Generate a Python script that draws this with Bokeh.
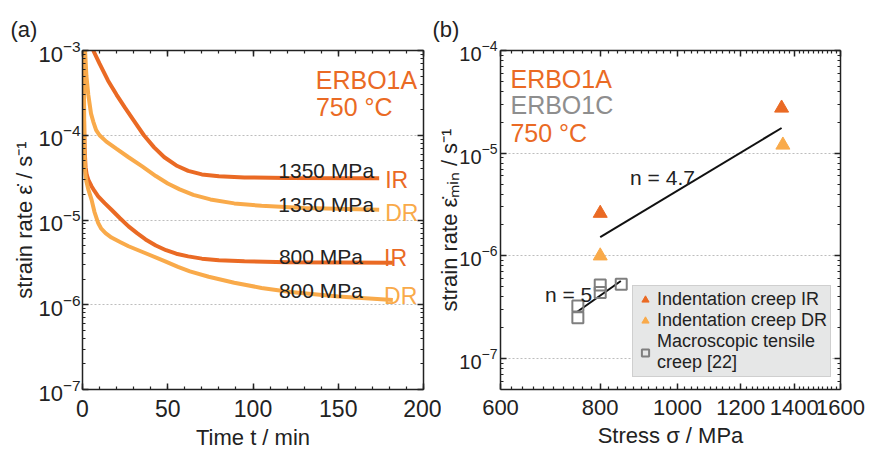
from bokeh.plotting import figure
from bokeh.layouts import row
from bokeh.models import (LogAxis, LinearAxis, FixedTicker, SingleIntervalTicker, Label,
                          Legend, LegendItem, BasicTickFormatter, CustomJSTickFormatter)
from bokeh.embed import file_html
from bokeh.resources import INLINE

# ---------------- data: panel (a) creep curves ----------------
t_ir_1350 = [6.3, 10, 15, 20, 25, 30, 36, 42, 48, 55, 62, 70, 80, 95, 120, 174]
r_ir_1350 = [1.0e-3, 7.0e-4, 4.4e-4, 3.0e-4, 2.1e-4, 1.5e-4, 1.0e-4, 7.2e-5, 5.5e-5,
             4.4e-5, 3.8e-5, 3.45e-5, 3.28e-5, 3.18e-5, 3.13e-5, 3.1e-5]

t_dr_1350 = [1.5, 2.3, 3.4, 5, 6.3, 8, 10, 14, 20, 27, 35, 43, 50, 57, 65, 75, 89, 105, 130, 174]
r_dr_1350 = [1.0e-3, 5.0e-4, 3.0e-4, 1.8e-4, 1.45e-4, 1.15e-4, 1.0e-4, 8.4e-5, 6.9e-5, 5.5e-5,
             4.3e-5, 3.3e-5, 2.7e-5, 2.3e-5, 1.98e-5, 1.75e-5, 1.57e-5, 1.47e-5, 1.39e-5, 1.32e-5]

t_ir_800 = [0.4, 0.6, 0.8, 1.0, 1.3, 1.8, 2.5, 3.5, 5.3, 7, 9.2, 13, 17, 22, 27, 32, 37, 43, 49,
            55, 62, 70, 80, 95, 120, 182]
r_ir_800 = [1.0e-3, 4.0e-4, 2.0e-4, 1.1e-4, 6.5e-5, 4.2e-5, 3.4e-5, 2.95e-5, 2.5e-5, 2.2e-5,
            1.9e-5, 1.58e-5, 1.32e-5, 1.05e-5, 8.4e-6, 7.0e-6, 5.9e-6, 5.0e-6, 4.4e-6, 4.0e-6,
            3.72e-6, 3.5e-6, 3.35e-6, 3.25e-6, 3.18e-6, 3.13e-6]

t_dr_800 = [0.7, 0.85, 1.0, 1.2, 1.5, 2.2, 3.4, 5.3, 7, 9.2, 11, 13.5, 17, 22, 27, 37, 48.5, 56,
            63, 74, 89, 105, 122, 150, 182]
r_dr_800 = [1.0e-3, 4.0e-4, 1.5e-4, 6.5e-5, 3.8e-5, 2.9e-5, 2.3e-5, 1.74e-5, 1.25e-5, 9.2e-6,
            7.9e-6, 7.0e-6, 6.2e-6, 5.5e-6, 4.9e-6, 4.05e-6, 3.25e-6, 2.8e-6, 2.48e-6, 2.14e-6,
            1.82e-6, 1.58e-6, 1.41e-6, 1.25e-6, 1.14e-6]

# ---------------- data: panel (b) minimum creep rates ----------------
ir_stress = [800, 1350]
ir_rate = [2.6e-6, 2.75e-5]
dr_stress = [800, 1355]
dr_rate = [1.0e-6, 1.2e-5]
mac_stress = [750, 750, 800, 800, 850]
mac_rate = [3.25e-7, 2.5e-7, 5.2e-7, 4.4e-7, 5.3e-7]
fit47_stress = [800, 1350]
fit47_rate = [1.52e-6, 1.76e-5]
fit5_stress = [748, 849]
fit5_rate = [2.84e-7, 5.7e-7]

x_ticks_a = [0, 50, 100, 150, 200]
y_ticks_a = [1e-7, 1e-6, 1e-5, 1e-4, 1e-3]
x_ticks_b = [600, 800, 1000, 1200, 1400, 1600]
y_ticks_b = [1e-7, 1e-6, 1e-5, 1e-4]

IR_C = "#EA6A24"
DR_C = "#F9AA4A"
GRAY_C = "#8E8E8E"
INK = "#222222"
FONT = "Liberation Sans"


def log_minor(lo_exp, hi_exp):
    return [k * 10.0 ** e for e in range(lo_exp, hi_exp) for k in range(2, 10)]


def style_axis(ax, fs, show=True):
    ax.major_tick_in = 6
    ax.major_tick_out = 0
    ax.minor_tick_in = 3
    ax.minor_tick_out = 0
    ax.axis_line_width = 1.5
    ax.axis_line_color = INK
    ax.major_tick_line_color = INK
    ax.major_tick_line_width = 1.5
    ax.minor_tick_line_color = INK
    ax.minor_tick_line_width = 1.2
    ax.major_label_text_font = FONT
    ax.major_label_text_color = INK
    ax.axis_label_text_font = FONT
    ax.axis_label_text_font_style = "normal"
    ax.axis_label_text_color = INK
    ax.axis_label_text_font_size = "22px"
    ax.major_label_text_font_size = fs
    if not show:
        ax.formatter = CustomJSTickFormatter(code="return ''")
        ax.major_label_standoff = 0


def lab(p, x, y, text, color=INK, size="21px", align="left"):
    p.add_layout(Label(x=x, y=y, text=text, text_color=color, text_font=FONT,
                       text_font_size=size, text_align=align, text_baseline="alphabetic"))


def panel_title(p, text, offset):
    p.title.text = text
    p.title.align = "left"
    p.title.vertical_align = "top"
    p.title.offset = offset
    p.title.text_font = FONT
    p.title.text_font_size = "22px"
    p.title.text_font_style = "normal"
    p.title.text_color = INK
    p.title.standoff = 14


# ======================= panel (a) =======================
p1 = figure(width=441, height=452, x_range=(0, 200), y_range=(1e-7, 1e-3), y_axis_type="log",
            output_backend="svg", toolbar_location=None,
            min_border_left=82, min_border_right=18, min_border_top=50, min_border_bottom=61)
p1.outline_line_color = None
panel_title(p1, "(a)", -72)

p1.xaxis.ticker = SingleIntervalTicker(interval=50, num_minor_ticks=5)
p1.yaxis.ticker = FixedTicker(ticks=y_ticks_a, minor_ticks=log_minor(-7, -3))
style_axis(p1.xaxis[0], "23px")
style_axis(p1.yaxis[0], "22px")
p1.xaxis.major_label_standoff = 10
p1.yaxis.major_label_standoff = 2
p1.yaxis.axis_label_standoff = -2
p1.xaxis.axis_label = "Time t / min"
p1.yaxis.axis_label = "strain rate ε̇ / s⁻¹"

top_a = LinearAxis(ticker=SingleIntervalTicker(interval=50, num_minor_ticks=5))
style_axis(top_a, "2px", show=False)
p1.add_layout(top_a, "above")
right_a = LogAxis(ticker=FixedTicker(ticks=y_ticks_a, minor_ticks=log_minor(-7, -3)))
style_axis(right_a, "2px", show=False)
p1.add_layout(right_a, "right")

p1.xgrid.visible = False
p1.ygrid.grid_line_color = "#bdbdbd"
p1.ygrid.grid_line_dash = "2 2"
p1.ygrid.grid_line_width = 1

p1.line(t_ir_1350, r_ir_1350, color=IR_C, line_width=4)
p1.line(t_dr_1350, r_dr_1350, color=DR_C, line_width=4)
p1.line(t_ir_800, r_ir_800, color=IR_C, line_width=4)
p1.line(t_dr_800, r_dr_800, color=DR_C, line_width=4)

lab(p1, 196.3, 4.44e-4, "ERBO1A", IR_C, "25px", "right")
lab(p1, 136.9, 2.14e-4, "750 °C", IR_C, "25px")
lab(p1, 171, 3.8e-5, "1350 MPa", INK, "21px", "right")
lab(p1, 177.5, 2.98e-5, "IR", IR_C, "23px")
lab(p1, 171, 1.52e-5, "1350 MPa", INK, "21px", "right")
lab(p1, 177.5, 1.22e-5, "DR", DR_C, "23px")
lab(p1, 164.5, 3.7e-6, "800 MPa", INK, "21px", "right")
lab(p1, 176.9, 3.6e-6, "IR", IR_C, "23px")
lab(p1, 164.5, 1.48e-6, "800 MPa", INK, "21px", "right")
lab(p1, 176.9, 1.26e-6, "DR", DR_C, "23px")

# ======================= panel (b) =======================
# overlaps panel (a) by 23 px with a transparent border so both keep their texts
p2 = figure(width=458, height=452, x_range=(600, 1600), y_range=(5e-8, 1e-4),
            x_axis_type="log", y_axis_type="log",
            output_backend="svg", toolbar_location=None,
            min_border_left=82, min_border_right=36, min_border_top=50, min_border_bottom=62)
p2.styles = {"margin-left": "-23px"}
p2.border_fill_color = None
p2.outline_line_color = None
panel_title(p2, "(b)", -68)

minor_x_b = [v for v in range(620, 1600, 20) if v % 200 != 0]
minor_y_b = [6e-8, 7e-8, 8e-8, 9e-8] + log_minor(-7, -4)
p2.xaxis.ticker = FixedTicker(ticks=x_ticks_b, minor_ticks=minor_x_b)
p2.xaxis.formatter = BasicTickFormatter(use_scientific=False)
p2.yaxis.ticker = FixedTicker(ticks=y_ticks_b, minor_ticks=minor_y_b)
style_axis(p2.xaxis[0], "22px")
style_axis(p2.yaxis[0], "20px")
p2.xaxis.major_label_standoff = 10
p2.yaxis.major_label_standoff = 3
p2.yaxis.axis_label_standoff = -6
p2.xaxis.axis_label = "Stress σ / MPa"
p2.yaxis.axis_label = "strain rate ε̇ₘᵢₙ / s⁻¹"

top_b = LogAxis(ticker=FixedTicker(ticks=x_ticks_b, minor_ticks=minor_x_b))
style_axis(top_b, "2px", show=False)
p2.add_layout(top_b, "above")
right_b = LogAxis(ticker=FixedTicker(ticks=y_ticks_b, minor_ticks=minor_y_b))
style_axis(right_b, "2px", show=False)
p2.add_layout(right_b, "right")

p2.xgrid.visible = False
p2.ygrid.grid_line_color = "#bdbdbd"
p2.ygrid.grid_line_dash = "2 2"
p2.ygrid.grid_line_width = 1

p2.line(fit47_stress, fit47_rate, color="#111111", line_width=2)
p2.line(fit5_stress, fit5_rate, color="#111111", line_width=2)
r_ir = p2.scatter(ir_stress, ir_rate, marker="triangle", size=14, color=IR_C)
r_dr = p2.scatter(dr_stress, dr_rate, marker="triangle", size=14, color=DR_C)
r_mac = p2.scatter(mac_stress, mac_rate, marker="square", size=11, fill_color=None,
                   line_color="#7f7f7f", line_width=2)

lab(p2, 617.5, 5.3e-5, "ERBO1A", IR_C, "25px")
lab(p2, 617.5, 2.94e-5, "ERBO1C", GRAY_C, "25px")
lab(p2, 617.5, 1.58e-5, "750 °C", IR_C, "25px")
lab(p2, 872, 5.86e-6, "n = 4.7", INK, "21px")
lab(p2, 682, 4.25e-7, "n = 5", INK, "21px")

legend = Legend(items=[LegendItem(label="Indentation creep IR", renderers=[r_ir]),
                       LegendItem(label="Indentation creep DR", renderers=[r_dr]),
                       LegendItem(label="Macroscopic tensile\ncreep [22]", renderers=[r_mac])],
                location=(132, 12))
legend.background_fill_color = "#E6E7E7"
legend.background_fill_alpha = 1
legend.border_line_color = "#B8B8B8"
legend.border_line_width = 1.5
legend.label_text_font = FONT
legend.label_text_font_size = "18px"
legend.label_text_color = INK
legend.label_text_line_height = 1.1
legend.label_height = 19
legend.glyph_height = 19
legend.glyph_width = 18
legend.label_standoff = 3
legend.spacing = 0
legend.padding = 3
legend.margin = 0
p2.add_layout(legend)

layout = row(p1, p2)
open("out.html", "w").write(file_html(layout, INLINE))
